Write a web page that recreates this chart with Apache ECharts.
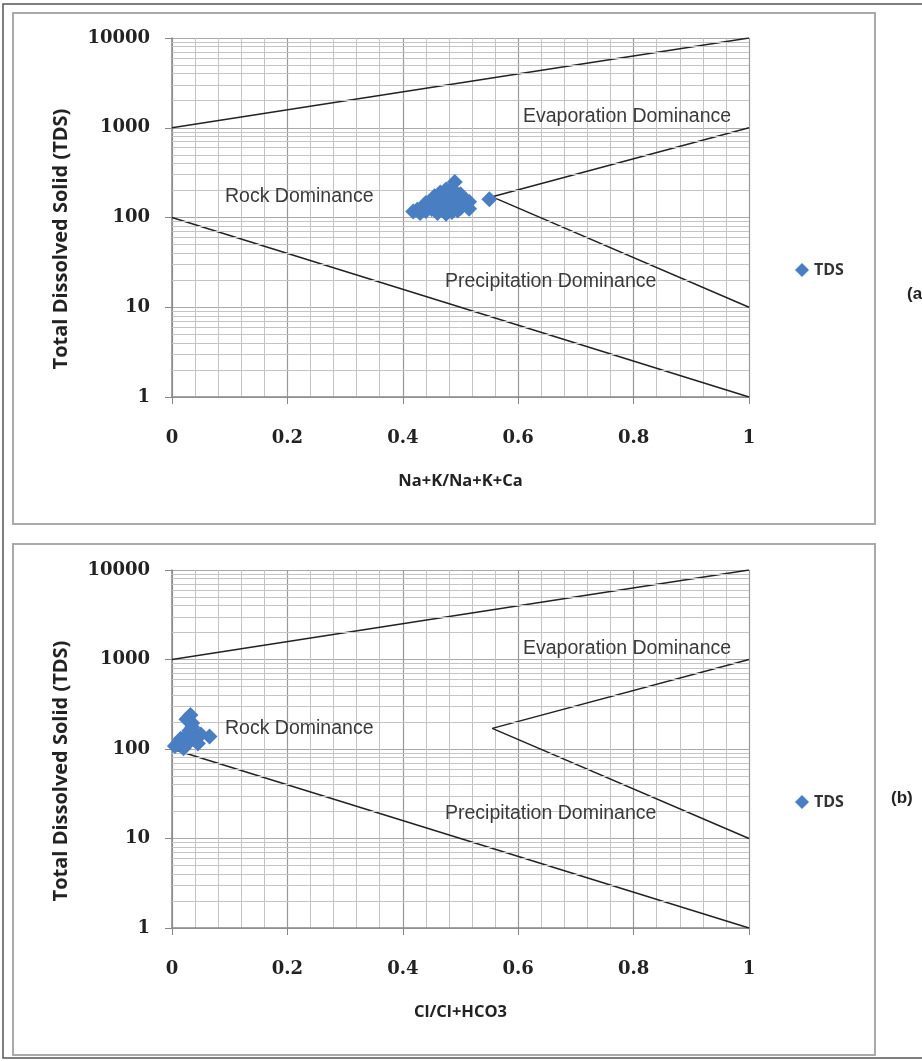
<!DOCTYPE html>
<html>
<head>
<meta charset="utf-8">
<script src="https://cdn.jsdelivr.net/npm/echarts@6/dist/echarts.min.js"></script>
<style>
  html, body { margin: 0; padding: 0; background: #fff; }
  #chart { width: 922px; height: 1061px; }
</style>
</head>
<body>
<div id="chart"></div>
<script>
// ratio Na+K/(Na+K+Ca) vs TDS
var tdsA = [
  [0.418, 117], [0.425, 122], [0.43, 112], [0.435, 128], [0.44, 118], [0.44, 145],
  [0.445, 138], [0.45, 124], [0.455, 150], [0.455, 172], [0.46, 112], [0.46, 170],
  [0.465, 190], [0.465, 140], [0.47, 145], [0.47, 120], [0.475, 205], [0.475, 160],
  [0.475, 110], [0.48, 165], [0.48, 130], [0.485, 115], [0.485, 210], [0.49, 248],
  [0.49, 190], [0.49, 170], [0.495, 150], [0.495, 120], [0.5, 128], [0.5, 155],
  [0.5, 182], [0.505, 165], [0.51, 140], [0.515, 125], [0.515, 150], [0.55, 160]
];
// ratio Cl/(Cl+HCO3) vs TDS
var tdsB = [
  [0.005, 108], [0.01, 115], [0.015, 110], [0.015, 130], [0.02, 125], [0.02, 102],
  [0.025, 140], [0.025, 215], [0.03, 160], [0.03, 120], [0.032, 240], [0.035, 195],
  [0.035, 175], [0.04, 150], [0.04, 128], [0.045, 115], [0.05, 145], [0.065, 138]
];
// Gibbs boundary lines (same for both panels)
var upperLine = [[0, 1000], [1, 10000]];
var lowerLine = [[0, 100], [1, 1]];
var wedgeLine = [[1, 1000], [0.555, 170], [1, 10]];
var decades = [1, 10, 100, 1000];
var minorMult = [2, 3, 4, 5, 6, 7, 8, 9];

var minorY = [];
decades.forEach(function (d) {
  minorMult.forEach(function (m) { minorY.push({ yAxis: d * m }); });
});

var chart = echarts.init(document.getElementById('chart'));

var tickFont = { fontFamily: 'DejaVu Serif', fontWeight: 'bold', fontSize: 18, color: '#222' };
var nameFont = { fontFamily: 'Open Sans', fontWeight: 'bold', fontSize: 16.5, color: '#222' };
var noteFont = { fontFamily: 'Liberation Sans', fontSize: 19.5, fill: '#3a3a3a' };

function xAxisFor(idx, title) {
  return {
    type: 'value', gridIndex: idx, min: 0, max: 1, interval: 0.2,
    name: title, nameLocation: 'middle', nameGap: 76,
    nameTextStyle: nameFont,
    axisLine: { lineStyle: { color: '#888', width: 1.5 } },
    axisTick: { show: true, length: 7, lineStyle: { color: '#888' } },
    axisLabel: Object.assign({ margin: 32, formatter: function (v) { return String(+v.toFixed(1)); } }, tickFont),
    splitLine: { show: true, lineStyle: { color: '#999', width: 1.2 } },
    minorTick: { show: false, splitNumber: 5 },
    minorSplitLine: { show: true, lineStyle: { color: '#c4c4c4', width: 1 } }
  };
}

function yAxisFor(idx) {
  return {
    type: 'log', logBase: 10, gridIndex: idx, min: 1, max: 10000,
    axisLine: { show: true, lineStyle: { color: '#888', width: 1.5 } },
    axisTick: { show: true, length: 7, lineStyle: { color: '#888' } },
    axisLabel: Object.assign({ margin: 22, formatter: function (v) { return String(Math.round(v)); } }, tickFont),
    splitLine: { show: true, lineStyle: { color: '#aaa', width: 1 } }
  };
}

function lineSeries(idx, data) {
  return {
    type: 'line', xAxisIndex: idx, yAxisIndex: idx, data: data,
    symbol: 'none', silent: true, z: 3,
    lineStyle: { color: '#222', width: 1.5 }
  };
}

function panelSeries(idx, pts) {
  return [
    {
      type: 'line', xAxisIndex: idx, yAxisIndex: idx, data: [], z: 1, silent: true,
      markLine: {
        symbol: 'none', silent: true, animation: false,
        label: { show: false },
        lineStyle: { color: '#c4c4c4', width: 1, type: 'solid' },
        data: minorY
      }
    },
    lineSeries(idx, upperLine),
    lineSeries(idx, lowerLine),
    lineSeries(idx, wedgeLine),
    {
      name: 'TDS', type: 'scatter', xAxisIndex: idx, yAxisIndex: idx, data: pts,
      symbol: 'diamond', symbolSize: 16, z: 5,
      itemStyle: { color: '#4a7ec2', opacity: 1 }
    }
  ];
}

function note(x, y, text) {
  return { type: 'text', left: x, top: y, style: Object.assign({ text: text }, noteFont), z: 10 };
}

function yName(cy) {
  return {
    type: 'text', x: 61, y: cy, rotation: Math.PI / 2,
    style: { text: 'Total Dissolved Solid (TDS)', fontFamily: 'Open Sans', fontWeight: 'bold', fontSize: 20,
      fill: '#222', align: 'center', verticalAlign: 'middle' }
  };
}

var legendText = { fontFamily: 'Open Sans', fontWeight: 'bold', fontSize: 16, color: '#333' };

var option = {
  animation: false,
  backgroundColor: '#fff',
  grid: [
    { left: 172, right: 173, top: 38, height: 359 },
    { left: 172, right: 173, top: 570, height: 358 }
  ],
  xAxis: [xAxisFor(0, 'Na+K/Na+K+Ca'), xAxisFor(1, 'Cl/Cl+HCO3')],
  yAxis: [yAxisFor(0), yAxisFor(1)],
  legend: [
    { data: [{ name: 'TDS', icon: 'diamond' }], left: 790, top: 257, itemWidth: 14, itemHeight: 14, itemGap: 4,
      textStyle: legendText },
    { data: [{ name: 'TDS', icon: 'diamond' }], left: 790, top: 789, itemWidth: 14, itemHeight: 14, itemGap: 4,
      textStyle: legendText }
  ],
  series: panelSeries(0, tdsA).concat(panelSeries(1, tdsB)),
  graphic: [
    { type: 'polyline', shape: { points: [[922, 4], [3, 4], [3, 1058], [922, 1058]] }, style: { fill: 'none', stroke: '#555', lineWidth: 1.5 }, silent: true },
    { type: 'rect', shape: { x: 13, y: 13, width: 862, height: 511 }, style: { fill: 'none', stroke: '#aaa', lineWidth: 2 }, silent: true },
    { type: 'rect', shape: { x: 13, y: 544, width: 862, height: 511 }, style: { fill: 'none', stroke: '#aaa', lineWidth: 2 }, silent: true },
    yName(239),
    yName(771),
    note(523, 107, 'Evaporation Dominance'),
    note(225, 187, 'Rock Dominance'),
    note(445, 272, 'Precipitation Dominance'),
    note(523, 639, 'Evaporation Dominance'),
    note(225, 719, 'Rock Dominance'),
    note(445, 804, 'Precipitation Dominance'),
    { type: 'text', left: 907, top: 286, style: { text: '(a)', fontFamily: 'Liberation Sans', fontWeight: 'bold', fontSize: 17, fill: '#222' } },
    { type: 'text', left: 891, top: 790, style: { text: '(b)', fontFamily: 'Liberation Sans', fontWeight: 'bold', fontSize: 17, fill: '#222' } }
  ]
};

chart.setOption(option);
</script>
</body>
</html>
